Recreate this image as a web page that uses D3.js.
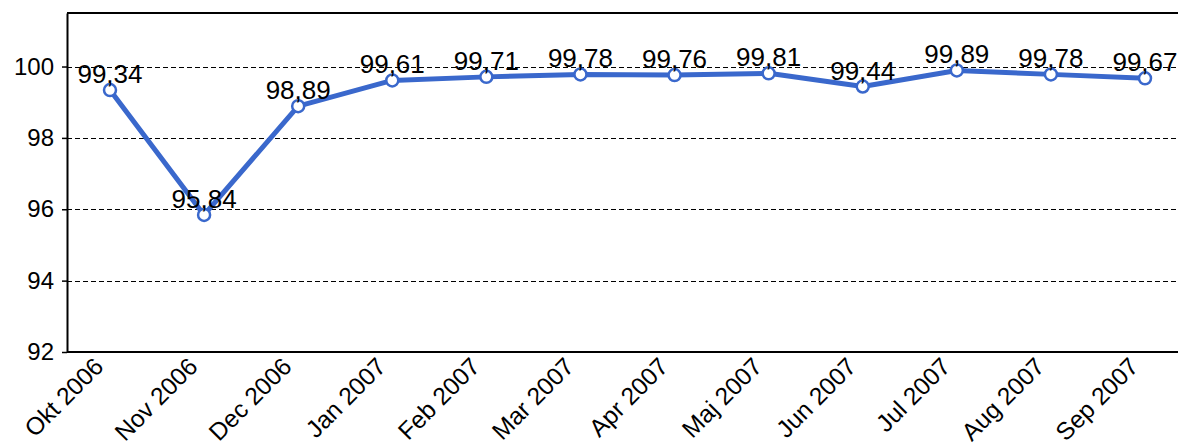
<!DOCTYPE html>
<html>
<head>
<meta charset="utf-8">
<script src="https://cdn.jsdelivr.net/npm/d3@7"></script>
<style>
  body { margin: 0; background: #fff; }
  text { font-family: "Liberation Sans", Arial, sans-serif; fill: #000; }
</style>
</head>
<body>
<svg width="1178" height="445"></svg>
<script>
const months = ['Okt 2006', 'Nov 2006', 'Dec 2006', 'Jan 2007', 'Feb 2007', 'Mar 2007',
                'Apr 2007', 'Maj 2007', 'Jun 2007', 'Jul 2007', 'Aug 2007', 'Sep 2007'];
const values = [99.34, 95.84, 98.89, 99.61, 99.71, 99.78, 99.76, 99.81, 99.44, 99.89, 99.78, 99.67];
const yTicks = [92, 94, 96, 98, 100];

const svg = d3.select('svg');
const plotL = 67, plotR = 1178, plotT = 13, plotB = 352;

let x = d3.scalePoint().domain(months).range([110, 1145]);
let y = d3.scaleLinear().domain([92, 101.5]).range([plotB, plotT]);

// grid lines
svg.append('g')
  .selectAll('line')
  .data(yTicks.filter(d => d > 92))
  .enter().append('line')
  .attr('x1', plotL).attr('x2', plotR)
  .attr('y1', d => Math.round(y(d)) + 0.5).attr('y2', d => Math.round(y(d)) + 0.5)
  .attr('stroke', '#000').attr('stroke-width', 1.2)
  .attr('stroke-dasharray', '5,3');

// frame: top, left, bottom
svg.append('line').attr('x1', plotL).attr('x2', plotR).attr('y1', plotT).attr('y2', plotT)
  .attr('stroke', '#000').attr('stroke-width', 2);

let yAxis = d3.axisLeft(y).tickValues(yTicks).tickSize(5).tickSizeOuter(0).tickPadding(8);
let gy = svg.append('g').attr('transform', `translate(${plotL},0)`).call(yAxis);
gy.select('.domain').attr('stroke-width', 2);
gy.selectAll('.tick line').attr('stroke-width', 1.5);
gy.selectAll('text').attr('font-size', 24).attr('font-family', '"Liberation Sans", Arial, sans-serif');

svg.append('line').attr('x1', plotL).attr('x2', plotR).attr('y1', plotB).attr('y2', plotB)
  .attr('stroke', '#000').attr('stroke-width', 2);

// x labels
svg.append('g')
  .selectAll('text')
  .data(months)
  .enter().append('text')
  .attr('transform', d => `translate(${x(d) - 5},${plotB + 16}) rotate(-45)`)
  .attr('text-anchor', 'end')
  .attr('font-size', 24.5)
  .text(d => d);

// line
let line = d3.line().x((d, i) => x(months[i])).y(d => y(d));
svg.append('path')
  .datum(values)
  .attr('d', line)
  .attr('fill', 'none')
  .attr('stroke', '#3A68CC')
  .attr('stroke-width', 5)
  .attr('stroke-linejoin', 'round');

svg.append('g')
  .selectAll('circle')
  .data(values)
  .enter().append('circle')
  .attr('cx', (d, i) => x(months[i]))
  .attr('cy', d => y(d))
  .attr('r', 6)
  .attr('fill', '#fff')
  .attr('stroke', '#3A68CC')
  .attr('stroke-width', 2.5);

// value labels
svg.append('g')
  .selectAll('text')
  .data(values)
  .enter().append('text')
  .attr('x', (d, i) => x(months[i]))
  .attr('y', d => y(d) - 7)
  .attr('text-anchor', 'middle')
  .attr('font-size', 26)
  .text(d => d.toFixed(2).replace('.', ','));
</script>
</body>
</html>
